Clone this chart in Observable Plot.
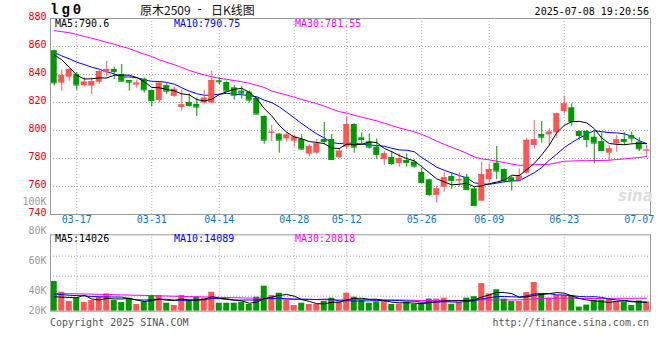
<!DOCTYPE html>
<html><head><meta charset="utf-8">
<script src="https://cdn.jsdelivr.net/npm/d3@7"></script>
<script src="https://cdn.jsdelivr.net/npm/@observablehq/plot@0.6"></script>
<style>
body{margin:0;background:#fff;}
#wrap{position:relative;width:660px;height:360px;overflow:hidden;font-family:"DejaVu Sans Mono",monospace;font-size:10px;}
.abs{position:absolute;white-space:nowrap;line-height:1;}
#wrap svg{position:absolute;left:0;}
</style></head><body><div id="wrap"></div>
<script>
// ---------- data ----------
const dates = ["03-12","03-13","03-14","03-17","03-18","03-19","03-20","03-21","03-24","03-25","03-26","03-27","03-28","03-31",
"04-01","04-02","04-03","04-07","04-08","04-09","04-10","04-11","04-14","04-15","04-16","04-17","04-18","04-21","04-22","04-23","04-24","04-25","04-28","04-29","04-30",
"05-06","05-07","05-08","05-09","05-12","05-13","05-14","05-15","05-16","05-19","05-20","05-21","05-22","05-23","05-26","05-27","05-28","05-29","05-30",
"06-03","06-04","06-05","06-06","06-09","06-10","06-11","06-12","06-13","06-16","06-17","06-18","06-19","06-20","06-23","06-24","06-25","06-26","06-27","06-30",
"07-01","07-02","07-03","07-04","07-07","07-08"];
const open  = [857,833.8,838.1,840,832.1,831.7,834.5,841.2,843.6,840,835.7,832.4,836.7,828.6,821.4,832.1,824.4,816.5,820,818.6,
819.6,819.5,835.5,834.3,830.5,828.1,827.4,822.9,810,798.3,797.4,794,792.4,793.6,783.1,783.8,793.6,793.6,780.5,788.1,
804.3,794.8,791.9,788.1,779.3,780.7,776.4,778.6,777.4,770,764.8,753.6,759.5,767.1,764,766.7,758.3,749.5,764.8,776.7,
772.1,766.2,764.3,769.5,789.3,797.1,796.9,798.3,813.6,816.2,799.3,799.3,795.2,792.1,783.8,790.5,793.6,796.4,791.7,785.5];
const high  = [857.5,843.3,844,841.4,838,837.6,843.3,849.3,845.2,847.1,835.7,836.2,837.6,829,834.3,833.3,831,829,826,823.2,
828.6,842.3,837.9,835.2,832.1,831.4,828.3,823.6,810.5,803.6,797.9,798.3,796.9,797.1,789.8,793.6,805.7,797.1,786.9,810,
804.8,798.3,797.6,794,785.2,785.2,783.3,783.3,779.3,773.1,765.2,760.2,770.2,769.8,769.8,768.6,759.5,777.4,776.2,788.6,
772.6,767.1,772.6,794.5,807.1,806.4,801.2,812.4,824.5,819,799.8,800,799.3,798.3,789.3,796.4,798.6,798.8,794.8,789.3];
const low   = [831.7,828.1,835.2,828.6,831,825.7,832.9,838.1,836.4,834.8,828.1,830.2,826.7,816.7,819.5,825.7,823.8,813.8,816.7,810,
818.9,819.3,832.6,827.4,821.7,822.4,819.5,811.4,790.2,792.1,783.8,791.7,788.1,785.7,781,783.1,789.8,778.6,780,786.4,
783.8,790.2,786.7,779.5,775.2,775,773.8,773.8,773.1,761.9,752.9,748.1,756,757.9,759.5,757.1,745.7,749.5,762.4,764.8,
762.4,756.7,764.3,768.6,786.7,791,789.3,794,811.9,802.9,792.9,787.6,776.2,785,778.6,784.5,789.3,791,785,781.4];
const close = [834,839.3,843.6,832.4,834.5,835,842.1,843.6,842.1,835.2,834.5,833.8,829,821.4,833.8,828.1,829.4,818.3,817.9,816.7,
823.1,835.7,834.8,828.1,825.2,826.7,821.7,811.7,793.1,798.8,793.1,796.7,795.2,786.7,788.6,790.5,792.1,779.3,785.2,804.3,
788.1,793.6,788.1,782.9,783.3,776.4,780,777.1,774.5,762.9,754.3,758.3,766.2,764.3,764.8,757.9,746.4,768.6,772.1,771,
764.3,764.3,767.4,793,793.3,795.2,798.8,811.9,819,806.4,796.4,793.6,791,785.7,786.9,793.3,792.1,794.5,786.9,786];
const volume = [47500,30400,15500,20800,13900,17100,22400,27700,17100,13900,20800,10700,14400,25100,25100,12800,9100,25100,17600,22400,
20800,30400,12800,12800,12800,14400,10700,22400,40000,25100,28800,17100,9100,12800,10700,10700,15500,20800,14400,28800,
22400,17100,12800,14900,17100,10700,11200,14400,10700,12800,19400,19400,21000,11100,13800,21000,23200,44200,27700,34300,
19400,15400,15400,29800,45900,27700,21000,24900,24900,24300,6600,9800,17600,17600,19000,14800,14800,9100,16500,14900];

// moving-average values before enough history exists
const ma5Head  = [854,850.5,845.2,839.5];
const ma10Head = [855.7,853.3,851.2,848.8,847.1,845.2,843.8,841.9,840.5];
const ma30Head = [871.3,870.6,869.9,868.6,867.2,865.9,864.5,863,861.6,860,858.5,856.4,854.6,852.8,850.5,848.7,847,845,842.9,841.2,
839.7,838.4,837.3,836.5,835.7,834.8,833.7,832.3,830.8];
const volMa5Head  = [23000,22500,22000,21500];
const volMa10Head = [27700,26500,25500,25000,24500,23500,23000,22800,22700];
const volMa30Head = [28300,28200,28000,27800,27600,27300,27000,26700,26400,26100,25800,25500,25200,24900,24600,24300,24000,23700,23400,23100,
22800,22500,22200,21900,21600,21300,21000,20800,20600];

const priceTicks = [740,760,780,800,820,840,860,880];
const priceGrid  = [760,780,800,820,840,860];
const gridDates  = ["03-17","03-31","04-14","04-28","05-12","05-26","06-09","06-23"];
const dateTicks  = ["03-17","03-31","04-14","04-28","05-12","05-26","06-09","06-23","07-07"];
const volGrid    = [24000,56000,88000];
const volTickValues = [0,32000,81000,128000,175000];
const volTickLabels = ["20K","40K","60K","80K","100K"];
const priceMaLabels = ["MA5:790.6","MA10:790.75","MA30:781.55"];
const volMaLabels   = ["MA5:14026","MA10:14089","MA30:20818"];

// ---------- build ----------
const UP = "#ff5555", DOWN = "#009900", GRID = "#aaaaaa", FRAME = "#999999";
const MA_COLORS = ["#000000","#0000ff","#ff00ff"];
function movingAvg(vals, k, head) {
  return vals.map((_, i) => i < k - 1 ? head[i] : d3.mean(vals.slice(i - k + 1, i + 1)));
}
const ma5 = movingAvg(close, 5, ma5Head), ma10 = movingAvg(close, 10, ma10Head), ma30 = movingAvg(close, 30, ma30Head);
const vma5 = movingAvg(volume, 5, volMa5Head), vma10 = movingAvg(volume, 10, volMa10Head), vma30 = movingAvg(volume, 30, volMa30Head);
const rows = dates.map((d, i) => ({date: d, open: open[i], high: high[i], low: low[i], close: close[i], vol: volume[i],
  up: close[i] >= open[i], ma5: ma5[i], ma10: ma10[i], ma30: ma30[i], vma5: vma5[i], vma10: vma10[i], vma30: vma30[i]}));
const ups = rows.filter(d => d.up), downs = rows.filter(d => !d.up);

const xOpt = {type: "band", domain: dates, paddingInner: 0.2, paddingOuter: 0.1, axis: null};
const baseStyle = {fontFamily: "DejaVu Sans Mono, monospace", fontSize: "10px", background: "transparent", overflow: "visible"};

const pricePlot = Plot.plot({
  width: 660, height: 232, marginTop: 18, marginBottom: 18, marginLeft: 50, marginRight: 10,
  x: xOpt, y: {domain: [740, 880], axis: null},
  style: baseStyle,
  marks: [
    Plot.ruleY(priceGrid, {y: d => d, stroke: GRID, strokeDasharray: "1,2"}),
    Plot.ruleX(gridDates, {x: d => d, stroke: GRID, strokeDasharray: "1,2"}),
    Plot.line(rows, {x: "date", y: "ma30", stroke: MA_COLORS[2], strokeWidth: 1}),
    Plot.line(rows, {x: "date", y: "ma10", stroke: MA_COLORS[1], strokeWidth: 1}),
    Plot.ruleX(ups, {x: "date", y1: "low", y2: "high", stroke: UP}),
    Plot.ruleX(downs, {x: "date", y1: "low", y2: "high", stroke: DOWN}),
    Plot.barY(ups, {x: "date", y1: "open", y2: "close", fill: UP}),
    Plot.barY(downs, {x: "date", y1: "open", y2: "close", fill: DOWN}),
    Plot.tickY(ups, {x: "date", y: "close", stroke: UP}),
    Plot.tickY(downs, {x: "date", y: "close", stroke: DOWN}),
    Plot.line(rows, {x: "date", y: "ma5", stroke: MA_COLORS[0], strokeWidth: 1}),
    Plot.frame({stroke: FRAME}),
    Plot.text(priceTicks, {y: d => d, text: d => String(d), frameAnchor: "left", textAnchor: "end", dx: -4, dy: -1.5, fill: "#e60000", fontSize: 10}),
    Plot.text(dateTicks, {x: d => d, text: d => d, frameAnchor: "bottom", dy: 8, fill: "#0a78c8", fontSize: 10})
  ]
});

const volPlot = Plot.plot({
  width: 660, height: 130, marginTop: 44.3, marginBottom: 9.3, marginLeft: 50, marginRight: 10,
  x: xOpt, y: {domain: [0, 122240], axis: null},
  style: baseStyle,
  marks: [
    Plot.ruleY(volGrid, {y: d => d, stroke: GRID, strokeDasharray: "1,2"}),
    Plot.ruleX(gridDates, {x: d => d, stroke: GRID, strokeDasharray: "1,2"}),
    Plot.barY(ups, {x: "date", y: "vol", fill: UP}),
    Plot.barY(downs, {x: "date", y: "vol", fill: DOWN}),
    Plot.line(rows, {x: "date", y: "vma30", stroke: MA_COLORS[2], strokeWidth: 1}),
    Plot.line(rows, {x: "date", y: "vma10", stroke: MA_COLORS[1], strokeWidth: 1}),
    Plot.line(rows, {x: "date", y: "vma5", stroke: MA_COLORS[0], strokeWidth: 1}),
    Plot.frame({stroke: FRAME}),
    Plot.text(volTickValues, {y: d => d, text: (d, i) => volTickLabels[i], frameAnchor: "left", textAnchor: "end", dx: -4, fill: "#999999", fontSize: 10})
  ]
});

const wrap = document.getElementById("wrap");
pricePlot.style.top = "0px";
volPlot.style.top = "190px";
wrap.appendChild(pricePlot);
wrap.appendChild(volPlot);

function label(text, css) {
  const el = document.createElement("div");
  el.className = "abs";
  el.textContent = text;
  Object.assign(el.style, css);
  wrap.appendChild(el);
  return el;
}
label("lg0", {left: "50px", top: "3px", fontFamily: "Liberation Mono, monospace", fontWeight: "bold", fontSize: "14px", letterSpacing: "3px", color: "#000"});
label("原木2509", {left: "140px", top: "4px", fontFamily: "Noto Sans CJK SC, sans-serif", fontSize: "12px", color: "#111"});
label("-", {left: "196px", top: "3px", fontFamily: "DejaVu Sans Mono, monospace", fontSize: "12px", color: "#111"});
label("日K线图", {left: "211px", top: "4px", fontFamily: "Noto Sans CJK SC, sans-serif", fontSize: "12px", color: "#111"});
label("2025-07-08 19:20:56", {right: "11px", top: "7px", fontSize: "10px", color: "#000"});
const maLeft = ["55px", "174px", "295px"];
priceMaLabels.forEach((t, i) => label(t, {left: maLeft[i], top: "19px", fontSize: "10px", color: MA_COLORS[i]}));
volMaLabels.forEach((t, i) => label(t, {left: maLeft[i], top: "234px", fontSize: "10px", color: MA_COLORS[i]}));
label("Copyright 2025 SINA.COM", {left: "50px", top: "318px", fontSize: "10px", color: "#555"});
label("http://finance.sina.com.cn", {right: "11px", top: "318px", fontSize: "10px", color: "#555"});
label("sina", {left: "618px", top: "189px", fontFamily: "DejaVu Sans, sans-serif", fontWeight: "bold", fontStyle: "italic", fontSize: "15px", color: "#dddddd"});
</script></body></html>
